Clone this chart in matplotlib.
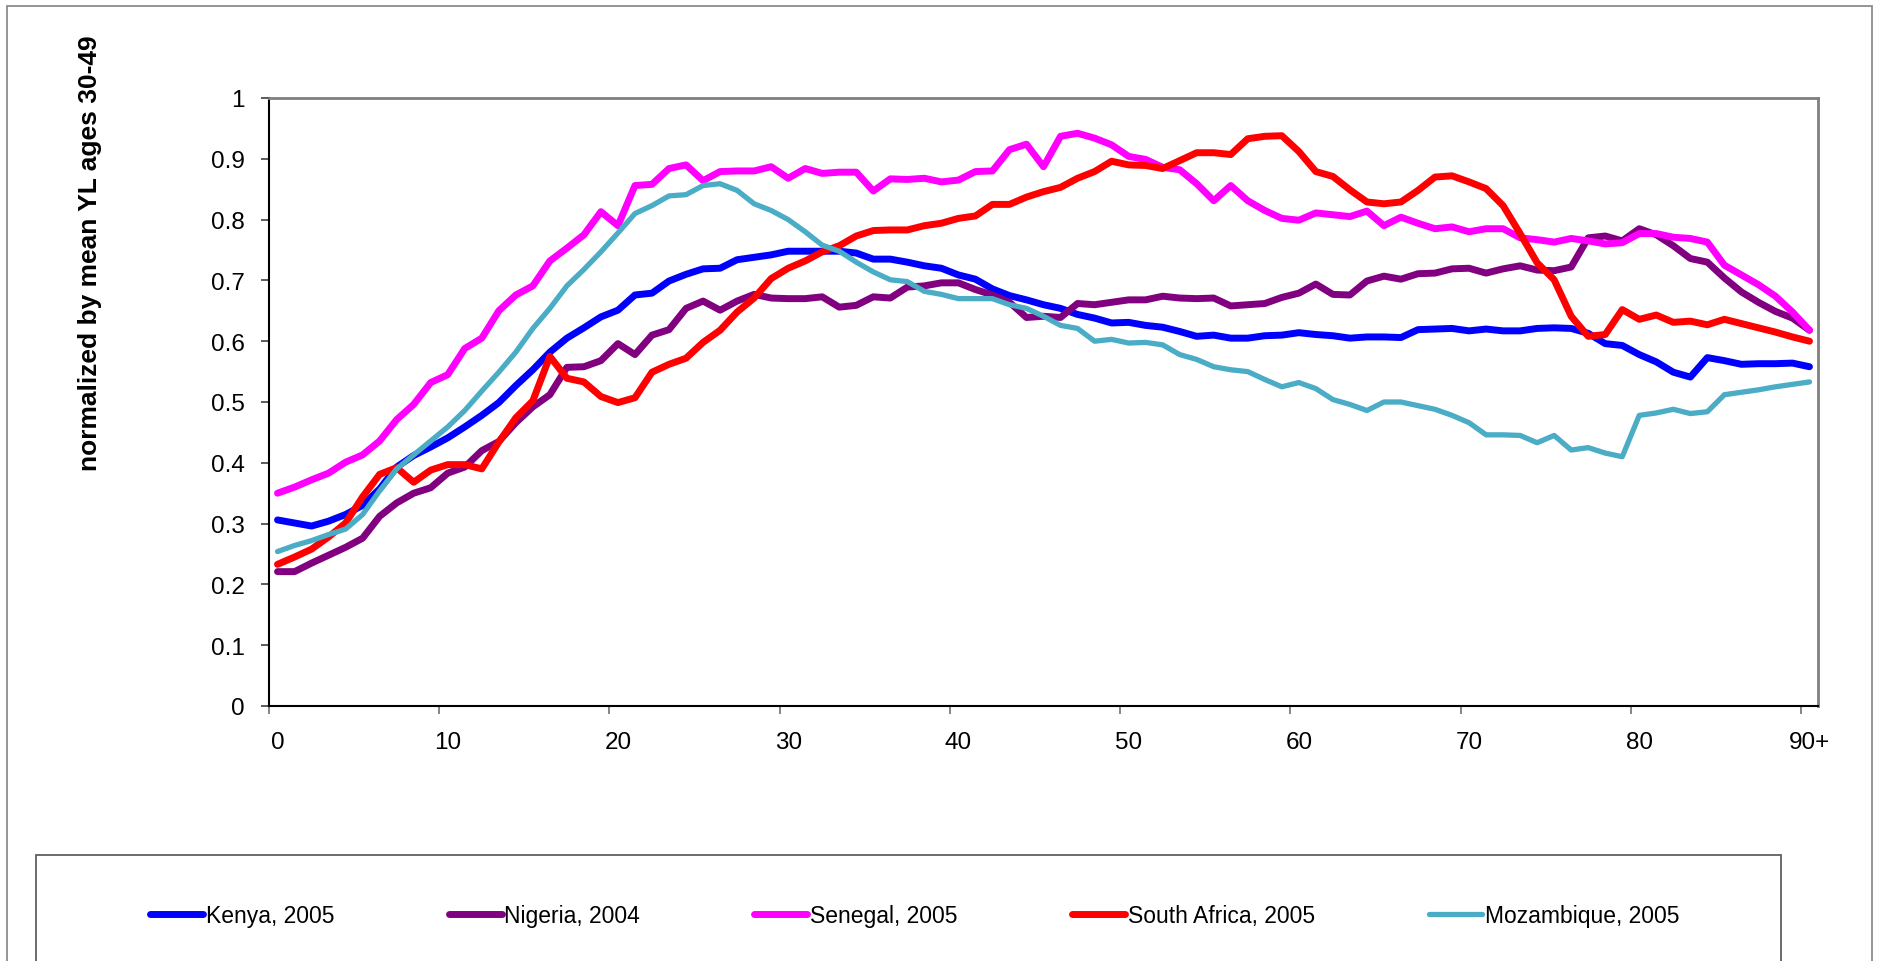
import matplotlib
matplotlib.use('Agg')
import matplotlib.pyplot as plt
from matplotlib.patches import Rectangle

# data
ages = list(range(91))
x_tick_ages = [0, 10, 20, 30, 40, 50, 60, 70, 80, 90]
x_tick_labels = ['0', '10', '20', '30', '40', '50', '60', '70', '80', '90+']
y_ticks = [0, 0.1, 0.2, 0.3, 0.4, 0.5, 0.6, 0.7, 0.8, 0.9, 1.0]
y_tick_labels = ['0', '0.1', '0.2', '0.3', '0.4', '0.5', '0.6', '0.7', '0.8', '0.9', '1']
y_label = 'normalized by mean YL ages 30-49'

countries = ['Kenya, 2005', 'Nigeria, 2004', 'Senegal, 2005', 'South Africa, 2005', 'Mozambique, 2005']
colors = ['#0000FF', '#800080', '#FF00FF', '#FF0000', '#4BACC6']
widths = [5.0, 5.0, 5.0, 5.0, 3.8]

kenya = [0.306, 0.301, 0.296, 0.304, 0.315, 0.330, 0.357, 0.393, 0.412, 0.426,
         0.441, 0.459, 0.478, 0.499, 0.527, 0.553, 0.582, 0.605, 0.622, 0.640,
         0.651, 0.676, 0.679, 0.699, 0.710, 0.719, 0.720, 0.734, 0.738, 0.742,
         0.748, 0.748, 0.748, 0.748, 0.745, 0.735, 0.735, 0.730, 0.724, 0.720,
         0.709, 0.702, 0.686, 0.675, 0.668, 0.660, 0.654, 0.644, 0.638, 0.630,
         0.631, 0.626, 0.623, 0.616, 0.608, 0.610, 0.605, 0.605, 0.609, 0.610,
         0.614, 0.611, 0.609, 0.605, 0.607, 0.607, 0.606, 0.619, 0.620, 0.621,
         0.617, 0.620, 0.617, 0.617, 0.621, 0.622, 0.621, 0.613, 0.596, 0.593,
         0.578, 0.566, 0.549, 0.541, 0.573, 0.568, 0.562, 0.563, 0.563, 0.564,
         0.558]

nigeria = [0.221, 0.221, 0.235, 0.248, 0.261, 0.276, 0.312, 0.334, 0.350, 0.359,
           0.383, 0.393, 0.420, 0.435, 0.466, 0.492, 0.512, 0.557, 0.558, 0.568,
           0.596, 0.578, 0.610, 0.619, 0.654, 0.666, 0.651, 0.666, 0.677, 0.671,
           0.670, 0.670, 0.673, 0.656, 0.659, 0.673, 0.671, 0.689, 0.691, 0.696,
           0.696, 0.685, 0.676, 0.664, 0.639, 0.641, 0.639, 0.662, 0.660, 0.664,
           0.668, 0.668, 0.674, 0.671, 0.670, 0.671, 0.658, 0.660, 0.662, 0.672,
           0.679, 0.694, 0.677, 0.676, 0.699, 0.707, 0.702, 0.711, 0.712, 0.719,
           0.720, 0.712, 0.719, 0.724, 0.717, 0.716, 0.722, 0.770, 0.773, 0.765,
           0.785, 0.775, 0.757, 0.736, 0.730, 0.704, 0.681, 0.664, 0.649, 0.638,
           0.618]

senegal = [0.350, 0.360, 0.372, 0.383, 0.401, 0.413, 0.436, 0.471, 0.496, 0.532,
           0.545, 0.588, 0.605, 0.650, 0.676, 0.691, 0.732, 0.753, 0.775, 0.813,
           0.790, 0.856, 0.858, 0.884, 0.890, 0.864, 0.879, 0.880, 0.880, 0.887,
           0.868, 0.884, 0.876, 0.878, 0.878, 0.847, 0.867, 0.866, 0.868, 0.862,
           0.865, 0.879, 0.880, 0.915, 0.924, 0.887, 0.937, 0.942, 0.934, 0.923,
           0.904, 0.899, 0.886, 0.882, 0.859, 0.831, 0.856, 0.831, 0.815, 0.802,
           0.799, 0.811, 0.808, 0.805, 0.814, 0.790, 0.804, 0.794, 0.785, 0.788,
           0.780, 0.785, 0.785, 0.770, 0.767, 0.763, 0.769, 0.765, 0.760, 0.762,
           0.777, 0.777, 0.771, 0.769, 0.763, 0.725, 0.709, 0.693, 0.674, 0.648,
           0.618]

south_africa = [0.233, 0.245, 0.258, 0.278, 0.301, 0.344, 0.381, 0.392, 0.368, 0.388,
                0.397, 0.397, 0.390, 0.434, 0.474, 0.502, 0.575, 0.539, 0.533, 0.509,
                0.499, 0.507, 0.549, 0.562, 0.572, 0.598, 0.618, 0.648, 0.671, 0.703,
                0.720, 0.732, 0.747, 0.757, 0.773, 0.782, 0.783, 0.783, 0.790, 0.794,
                0.802, 0.806, 0.825, 0.825, 0.837, 0.846, 0.853, 0.868, 0.879, 0.896,
                0.890, 0.889, 0.884, 0.897, 0.910, 0.910, 0.907, 0.933, 0.937, 0.938,
                0.912, 0.879, 0.871, 0.849, 0.829, 0.826, 0.829, 0.848, 0.870, 0.872,
                0.862, 0.851, 0.823, 0.777, 0.729, 0.701, 0.641, 0.608, 0.611, 0.652,
                0.636, 0.643, 0.631, 0.633, 0.627, 0.636, 0.629, 0.622, 0.615, 0.607,
                0.600]

mozambique = [0.254, 0.264, 0.272, 0.282, 0.291, 0.315, 0.354, 0.390, 0.413, 0.436,
              0.459, 0.486, 0.518, 0.549, 0.582, 0.621, 0.654, 0.691, 0.718, 0.747,
              0.778, 0.810, 0.823, 0.839, 0.841, 0.856, 0.859, 0.848, 0.826, 0.815,
              0.800, 0.780, 0.758, 0.748, 0.730, 0.714, 0.701, 0.698, 0.682, 0.677,
              0.670, 0.670, 0.670, 0.660, 0.654, 0.641, 0.626, 0.621, 0.600, 0.603,
              0.597, 0.598, 0.594, 0.578, 0.570, 0.558, 0.553, 0.550, 0.537, 0.525,
              0.532, 0.522, 0.504, 0.496, 0.486, 0.500, 0.500, 0.494, 0.488, 0.478,
              0.466, 0.446, 0.446, 0.445, 0.433, 0.445, 0.421, 0.425, 0.416, 0.410,
              0.478, 0.482, 0.488, 0.481, 0.484, 0.512, 0.516, 0.520, 0.525, 0.529,
              0.533]

series = [kenya, nigeria, senegal, south_africa, mozambique]

W, H = 1877, 962
plt.rcParams['font.family'] = ['Liberation Sans', 'DejaVu Sans']


def px_box(x0, y0, x1, y1):
    # pixel box (from top-left) -> figure fraction [left, bottom, width, height]
    return [x0 / W, 1 - y1 / H, (x1 - x0) / W, (y1 - y0) / H]


fig = plt.figure(figsize=(W / 100, H / 100), dpi=100)
fig.patch.set_facecolor('white')

# outer chart border (runs off the bottom of the image)
fig.patches.append(Rectangle((7 / W, -0.05), (1872 - 7) / W, 1.05 - 7 / H,
                             transform=fig.transFigure, fill=False,
                             edgecolor='#8c8c8c', lw=1.3))
# legend border
fig.patches.append(Rectangle((36 / W, -0.05), (1781 - 36) / W, 1.05 - 856 / H,
                             transform=fig.transFigure, fill=False,
                             edgecolor='#606060', lw=1.3))

ax = fig.add_axes(px_box(269, 99, 1818, 707))

# categories are centred between the tick marks, like the original
x_pos = [a + 0.5 for a in ages]
lines = []
for i, (vals, c, lw) in enumerate(zip(series, colors, widths)):
    ln, = ax.plot(x_pos, vals, color=c, lw=lw, solid_capstyle='round',
                  solid_joinstyle='round', zorder=3 + i, label=countries[i])
    lines.append(ln)

ax.set_xlim(0, 91)
ax.set_ylim(0, 1)

ax.set_xticks(x_tick_ages)
ax.set_xticklabels([''] * len(x_tick_ages))
ax.set_xticks([a + 0.5 for a in x_tick_ages], minor=True)
ax.set_xticklabels(x_tick_labels, minor=True)
ax.tick_params(axis='x', which='major', direction='out', length=6, width=1.2, color='#707070')
ax.tick_params(axis='x', which='minor', length=0, pad=18, labelsize=17.5)

ax.set_yticks(y_ticks)
ax.set_yticklabels(y_tick_labels)
ax.tick_params(axis='y', direction='out', length=6, width=1.2, color='#404040',
               pad=11.5, labelsize=17.5)

for side in ['left', 'bottom']:
    ax.spines[side].set_color('black')
    ax.spines[side].set_linewidth(1.5)
for side in ['top', 'right']:
    ax.spines[side].set_color('#808080')
    ax.spines[side].set_linewidth(2)

fig.text(90 / W, 1 - 253 / H, y_label, rotation=90, ha='center', va='center',
         fontsize=19, fontweight='bold')

fs = 16.5
fs_px = fs * 100 / 72
fig.legend(lines, countries, ncol=5, loc='center left',
           bbox_to_anchor=(150 / W, 1 - 917 / H), frameon=False, fontsize=fs,
           handlelength=53 / fs_px, handletextpad=3 / fs_px,
           columnspacing=114 / fs_px, borderpad=0, borderaxespad=0)

fig.savefig('out.png', dpi=100)
